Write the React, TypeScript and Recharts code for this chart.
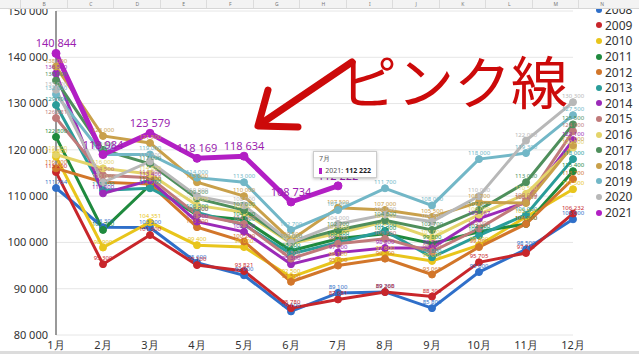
import React from "react";
import {
  LineChart,
  Line,
  XAxis,
  YAxis,
  CartesianGrid,
  Tooltip,
  LabelList,
} from "recharts";

const months = ["1月", "2月", "3月", "4月", "5月", "6月", "7月", "8月", "9月", "10月", "11月", "12月"];
const yTicks = [80000, 90000, 100000, 110000, 120000, 130000, 140000, 150000];

const y2008 = [111764, 103300, 103200, 95600, 92900, 85100, 89100, 89300, 85800, 93600, 98500, 105000];
const y2009 = [115200, 95300, 101600, 95100, 93821, 85780, 87681, 89268, 88303, 95705, 97711, 106232];
const y2010 = [118500, 98900, 104351, 99400, 99000, 92500, 96100, 97600, 96000, 99400, 105500, 111500];
const y2011 = [122800, 102700, 112400, 105900, 104900, 98200, 100800, 101900, 99800, 102300, 104000, 115400];
const y2012 = [116000, 113000, 112600, 103300, 100200, 91500, 95000, 96500, 93065, 99000, 104000, 113700];
const y2013 = [129700, 111300, 111700, 106500, 103800, 97500, 100000, 102500, 96800, 101500, 106000, 118000];
const y2014 = [136500, 110600, 113400, 104500, 102300, 95300, 97800, 98800, 98800, 105167, 108617, 122100];
const y2015 = [126881, 114500, 114000, 106000, 104000, 96500, 99700, 100800, 98000, 103000, 109000, 124000];
const y2016 = [119000, 116000, 114800, 108000, 106500, 99800, 102000, 104500, 101000, 106000, 110500, 120500];
const y2017 = [135000, 120000, 117000, 109500, 107000, 100000, 102700, 104800, 102700, 107000, 113000, 125500];
const y2018 = [138000, 123000, 121500, 113000, 110000, 100500, 107500, 107000, 105500, 108700, 108500, 121000];
const y2019 = [132000, 119000, 119000, 114000, 113000, 102700, 107000, 111700, 108000, 118000, 119300, 127500];
const y2020 = [133000, 113000, 117500, 110000, 108000, 100000, 104000, 106000, 104500, 110000, 122000, 130300];
const y2021 = [140844, 118984, 123579, 118169, 118634, 108734, 112222, null, null, null, null, null];

const SERIES = [
  { key: "2008", values: y2008, color: "#2f6fc9" },
  { key: "2009", values: y2009, color: "#c8262b" },
  { key: "2010", values: y2010, color: "#e8c51c" },
  { key: "2011", values: y2011, color: "#1f8a3e" },
  { key: "2012", values: y2012, color: "#d2762a" },
  { key: "2013", values: y2013, color: "#2a9d9a" },
  { key: "2014", values: y2014, color: "#9b2ab8" },
  { key: "2015", values: y2015, color: "#c07a7a" },
  { key: "2016", values: y2016, color: "#e4d46a" },
  { key: "2017", values: y2017, color: "#4f8f5c" },
  { key: "2018", values: y2018, color: "#c9a04a" },
  { key: "2019", values: y2019, color: "#72b7c7" },
  { key: "2020", values: y2020, color: "#b8b8b8" },
  { key: "2021", values: y2021, color: "#b21fc4" },
];

const rows = months.map((m, i) => {
  const row: Record<string, any> = { month: m };
  SERIES.forEach((s) => {
    row[s.key] = s.values[i];
  });
  return row;
});

// thin space between thousands, no wrapping
const fmt = (v: any) =>
  v == null ? "" : String(v).replace(/\B(?=(\d{3})+(?!\d))/g, "\u00a0");

const columns = ["B", "C", "D", "E", "F", "G", "H", "I", "J", "K", "L", "M", "N"];

function SheetHeader() {
  return (
    <div
      style={{
        position: "absolute",
        left: 0,
        top: 0,
        width: 639,
        height: 8,
        background: "#f3f3f3",
        borderBottom: "1px solid #d6d6d6",
        zIndex: 5,
      }}
    >
      {columns.map((c, i) => (
        <div
          key={c}
          style={{
            position: "absolute",
            left: 20 + i * 46.5,
            top: 0,
            width: 46.5,
            height: 8,
            borderLeft: "1px solid #dcdcdc",
            fontSize: 5,
            lineHeight: "8px",
            textAlign: "center",
            color: "#777",
          }}
        >
          {c}
        </div>
      ))}
    </div>
  );
}

function SideLegend() {
  return (
    <div style={{ position: "absolute", left: 596, top: 2, zIndex: 2 }}>
      {SERIES.map((s) => (
        <div
          key={s.key}
          style={{
            display: "flex",
            alignItems: "center",
            height: 15.6,
            fontSize: 12,
            color: "#333",
          }}
        >
          <span
            style={{
              display: "inline-block",
              width: 6,
              height: 6,
              borderRadius: 3,
              background: s.color,
              marginRight: 3,
            }}
          />
          {s.key}
        </div>
      ))}
    </div>
  );
}

function TipBox({ active }: any) {
  if (!active) return null;
  return (
    <div
      style={{
        background: "#fff",
        border: "1px solid #ccc",
        boxShadow: "0 1px 3px rgba(0,0,0,0.25)",
        padding: "2px 5px",
        fontSize: 7,
        color: "#555",
        width: 52,
        whiteSpace: "nowrap",
      }}
    >
      <div style={{ marginBottom: 2 }}>7月</div>
      <div style={{ display: "flex", alignItems: "center" }}>
        <span
          style={{ width: 6, height: 6, background: "#b21fc4", marginRight: 3, display: "inline-block" }}
        />
        2021: <b style={{ color: "#222", marginLeft: 2 }}>{fmt(y2021[6])}</b>
      </div>
    </div>
  );
}

function Annotation() {
  return (
    <div style={{ position: "absolute", left: 0, top: 0, width: 639, height: 354, zIndex: 3, pointerEvents: "none" }}>
      <svg width={639} height={354} style={{ position: "absolute", left: 0, top: 0 }}>
        <g stroke="#cc0a0a" strokeWidth={7} strokeLinecap="round" strokeLinejoin="round" fill="none">
          <line x1={352} y1={62} x2={262} y2={123} />
          <polyline points="268,90 258,126 298,127" />
        </g>
      </svg>
      <div
        style={{
          position: "absolute",
          left: 340,
          top: 34,
          fontSize: 57,
          fontFamily: "'Noto Sans CJK JP', sans-serif",
          color: "#cc0a0a",
          whiteSpace: "nowrap",
          lineHeight: "90px",
        }}
      >
        ピンク線
      </div>
    </div>
  );
}

export default function App() {
  return (
    <div
      style={{
        position: "fixed",
        left: 0,
        top: 0,
        width: 639,
        height: 354,
        background: "#fff",
        overflow: "hidden",
        fontFamily: "'Noto Sans', Arial, sans-serif",
      }}
    >
      <LineChart
        width={639}
        height={354}
        data={rows}
        margin={{ top: 11, right: 66, left: 6, bottom: 1 }}
      >
        <CartesianGrid vertical={false} stroke="#e6e6e6" />
        <XAxis
          dataKey="month"
          axisLine={false}
          tickLine={false}
          height={18}
          tick={{ fontSize: 11, fill: "#333", dy: -2 }}
        />
        <YAxis
          domain={[80000, 150000]}
          ticks={yTicks}
          width={50}
          tickFormatter={fmt}
          axisLine={{ stroke: "#777", strokeWidth: 1.5 }}
          tickLine={false}
          tick={{ fontSize: 11, fill: "#333" }}
        />
        <Tooltip
          defaultIndex={6}
          cursor={false}
          content={<TipBox />}
          position={{ x: 313, y: 151 }}
          isAnimationActive={false}
        />
        {SERIES.map((s) => {
          const main = s.key === "2021";
          return (
            <Line
              key={s.key}
              dataKey={s.key}
              stroke={s.color}
              strokeWidth={main ? 5 : 3}
              dot={{ r: main ? 4 : 3.5, fill: s.color, stroke: s.color, strokeWidth: 1 }}
              activeDot={false}
              isAnimationActive={false}
            >
              <LabelList
                dataKey={s.key}
                position="top"
                formatter={fmt}
                fontSize={main ? 11 : 6}
                fill={main ? "#9b1fb0" : s.color}
                offset={main ? 6 : 4}
              />
            </Line>
          );
        })}
      </LineChart>
      <SideLegend />
      <SheetHeader />
      <Annotation />
      <div style={{ position: "absolute", left: 0, top: 351, width: 639, height: 3, background: "#dcdcdc" }} />
    </div>
  );
}
